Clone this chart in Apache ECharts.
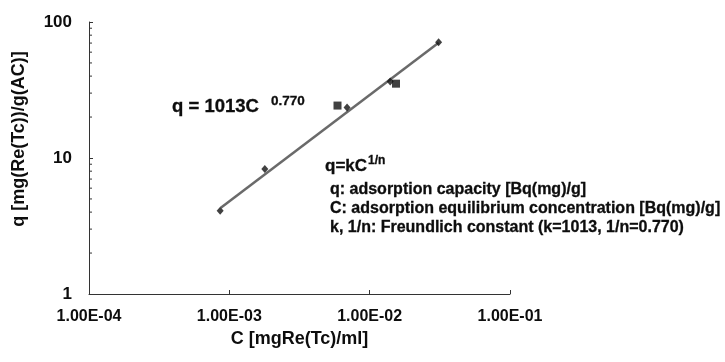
<!DOCTYPE html>
<html>
<head>
<meta charset="utf-8">
<script src="https://cdn.jsdelivr.net/npm/echarts@6/dist/echarts.min.js"></script>
<style>html,body{margin:0;padding:0;background:#fff}#c{width:725px;height:362px}</style>
</head>
<body>
<div id="c"></div>
<script>
// Data
var diamondC = [0.00086, 0.00179, 0.0069, 0.0140, 0.031];
var diamondQ = [4.1, 8.3, 23.5, 36.5, 71];
var squareC = [0.0059, 0.0154];
var squareQ = [24.3, 35.2];
var fitC = [0.00087, 0.031];
var fitQ = [4.3, 70.5];
var xTickLabels = ['1.00E-04', '1.00E-03', '1.00E-02', '1.00E-01'];
var yMinorTicks = [2, 3, 4, 5, 6, 7, 8, 9, 20, 30, 40, 50, 60, 70, 80, 90];

var font = '"Liberation Sans", Arial, sans-serif';
var ink = '#0d0d0d';
function pairs(a, b) { return a.map(function (v, i) { return [v, b[i]]; }); }
function txt(x, y, s, size, extra) {
  var style = { text: s, fontFamily: font, fontWeight: 'bold', fontSize: size, fill: ink,
                textVerticalAlign: 'middle', stroke: ink, lineWidth: 0.3 };
  for (var k in (extra || {})) style[k] = extra[k];
  return { type: 'text', x: x, y: y, style: style };
}

var chart = echarts.init(document.getElementById('c'), null, { renderer: 'canvas' });
chart.setOption({
  animation: false,
  backgroundColor: '#fff',
  grid: { left: 89, right: 215, top: 22, bottom: 68, containLabel: false },
  xAxis: {
    type: 'log', logBase: 10, min: 1e-4, max: 1e-1,
    name: 'C [mgRe(Tc)/ml]', nameLocation: 'middle', nameGap: 26,
    nameTextStyle: { fontFamily: font, fontWeight: 'bold', fontSize: 18, color: ink },
    axisLine: { lineStyle: { color: '#333', width: 1 } },
    axisTick: { inside: true, length: 4, lineStyle: { color: '#333' } },
    splitLine: { show: false },
    axisLabel: {
      margin: 15, fontFamily: font, fontWeight: 'bold', fontSize: 16, color: ink,
      formatter: function (v) {
        var e = Math.round(Math.log10(v));
        return xTickLabels[e + 4];
      }
    }
  },
  yAxis: {
    type: 'log', logBase: 10, min: 1, max: 100,
    axisLine: { show: true, lineStyle: { color: '#333', width: 1 } },
    axisTick: { show: true, inside: true, length: 4, lineStyle: { color: '#333' } },
    splitLine: { show: false },
    axisLabel: { margin: 17, fontFamily: font, fontWeight: 'bold', fontSize: 17, color: ink }
  },
  graphic: [
    {
      type: 'text', x: 19, y: 139, rotation: Math.PI / 2,
      style: { text: 'q [mg(Re(Tc))/g(AC)]', fontFamily: font, fontWeight: 'bold', fontSize: 18, fill: ink,
               textAlign: 'center', textVerticalAlign: 'middle' }
    },
    txt(172, 107, 'q = 1013C', 18.5),
    txt(271, 101, '0.770', 13.5),
    txt(325, 166, 'q=kC', 17),
    txt(368, 161, '1/n', 12),
    txt(330, 180.5, 'q: adsorption capacity [Bq(mg)/g]\nC: adsorption equilibrium concentration [Bq(mg)/g]\nk, 1/n: Freundlich constant (k=1013, 1/n=0.770)',
        16, { lineHeight: 19, textVerticalAlign: 'top' })
  ],
  series: [
    {
      type: 'line', data: pairs(fitC, fitQ), symbol: 'none',
      lineStyle: { color: '#6a6a6a', width: 2.5 }, z: 2
    },
    {
      type: 'scatter', data: pairs(diamondC, diamondQ), symbol: 'diamond', symbolSize: [7, 8],
      itemStyle: { color: '#111' }, z: 3
    },
    {
      type: 'scatter', data: pairs(squareC, squareQ), symbol: 'rect', symbolSize: 8,
      itemStyle: { color: '#111' }, z: 3
    },
    {
      type: 'custom', silent: true, z: 4,
      data: yMinorTicks.map(function (v) { return [1e-4, v]; }),
      renderItem: function (params, api) {
        var p = api.coord([api.value(0), api.value(1)]);
        return {
          type: 'line',
          shape: { x1: p[0], y1: p[1], x2: p[0] + 3, y2: p[1] },
          style: { stroke: '#333', lineWidth: 1 }
        };
      }
    }
  ]
});
</script>
</body>
</html>
